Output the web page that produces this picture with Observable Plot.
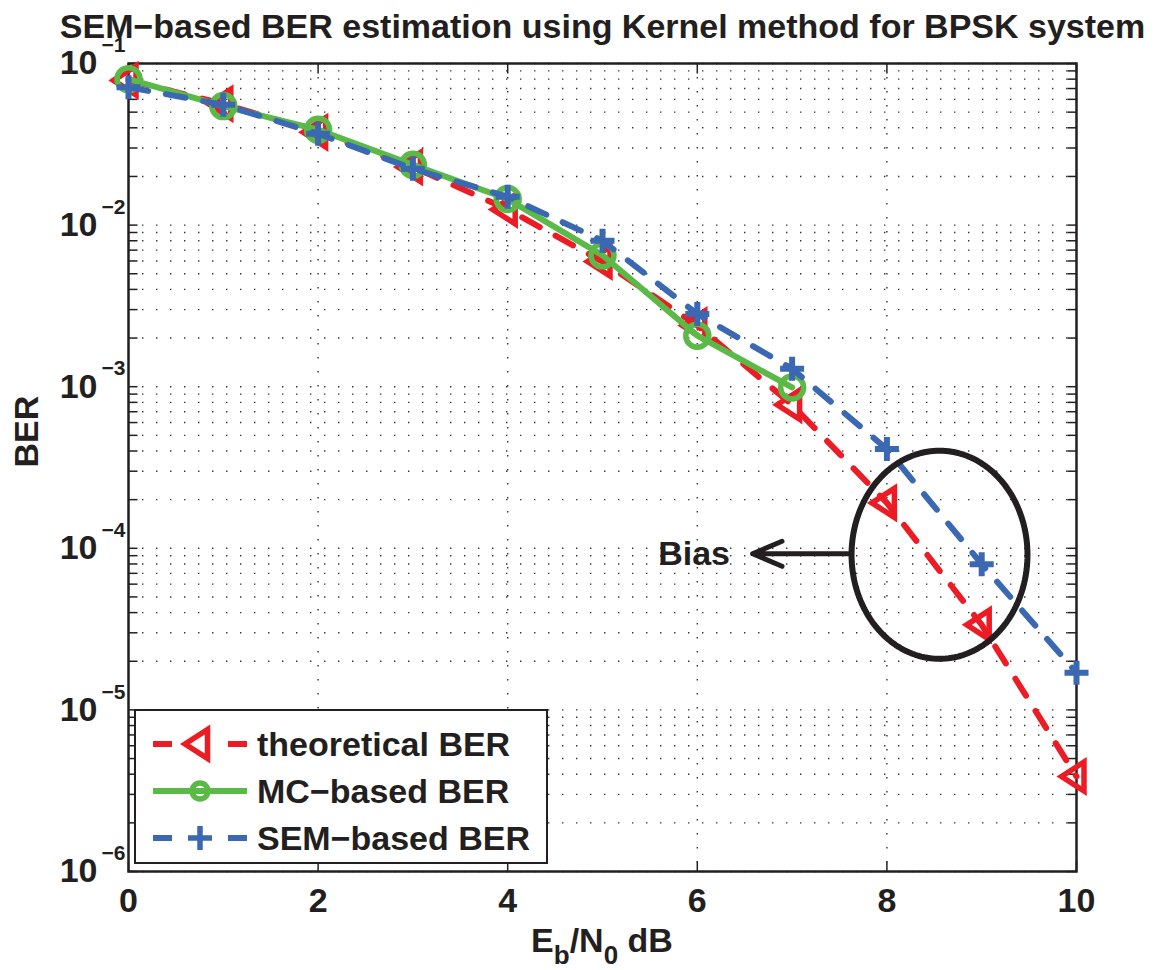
<!DOCTYPE html>
<html><head><meta charset="utf-8">
<script src="https://cdn.jsdelivr.net/npm/d3@7"></script>
<script src="https://cdn.jsdelivr.net/npm/@observablehq/plot@0.6"></script>
<style>
body{margin:0;background:#fff;}
#chart svg{display:block;}
</style></head>
<body><div id="chart"></div>
<script>
// ---- data ----
const ebn0 = [0,1,2,3,4,5,6,7,8,9,10];
const theoreticalBER = [0.0786,0.0563,0.0375,0.0229,0.0125,0.00595,0.00239,0.000773,0.000191,0.0000336,0.00000387];
const mcEbn0 = [0,1,2,3,4,5,6,7];
const mcBER = [0.080,0.0545,0.0389,0.0236,0.0145,0.0065,0.00207,0.00099];
const semBER = [0.0713,0.0555,0.0368,0.0223,0.0150,0.0080,0.00282,0.00129,0.000411,0.0000798,0.0000170];
const seriesNames = ["theoretical BER","MC\u2212based BER","SEM\u2212based BER"];
const seriesColors = ["#ed1c24","#5bb947","#3a68b3"];
const xTicks = [0,2,4,6,8,10];
const xGrid = [2,4,6,8];
const yExponents = [-1,-2,-3,-4,-5,-6];
const yMantissas = [1,2,3,4,5,6,7,8,9];
const titleText = "SEM\u2212based BER estimation using Kernel method for BPSK system";
const yLabel = "BER";
const xLabelParts = [["E",false],["b",true],["/N",false],["0",true],[" dB",false]];
const biasLabel = "Bias";
// annotation anchors (data space: x in dB, y as log10 BER)
const biasEllipse = {x: 8.555, rx: 0.928, logY: -4.04, logRy: 0.644};
const biasArrow = {x1: 7.596, x2: 6.583, logY: -4.034};
const biasText = {x: 5.966, logY: -4.034};

// ---- derived tables ----
const theory = ebn0.map((x,i)=>({x, y: theoreticalBER[i]}));
const mc = mcEbn0.map((x,i)=>({x, y: mcBER[i]}));
const sem = ebn0.map((x,i)=>({x, y: semBER[i]}));
const yMinor = [];
for (const e of yExponents.slice(1)) for (const m of yMantissas) yMinor.push(m * 10**e);
yMinor.push(10**yExponents[0]);
const ellipsePts = d3.range(0, 361, 2).map(a => {
  const t = a*Math.PI/180;
  return {x: biasEllipse.x + biasEllipse.rx*Math.cos(t), y: 10**(biasEllipse.logY + biasEllipse.logRy*Math.sin(t))};
});

// ---- symbols ----
const triLeft = {draw(c){c.moveTo(-15,0); c.lineTo(7.5,-14.5); c.lineTo(7.5,14.5); c.closePath();}};
const plusSym = {draw(c){c.moveTo(-12,0); c.lineTo(12,0); c.moveTo(0,-12); c.lineTo(0,12);}};
const tickL = {draw(c){c.moveTo(0,0); c.lineTo(9,0);}};
const tickR = {draw(c){c.moveTo(0,0); c.lineTo(-9,0);}};
const tickB = {draw(c){c.moveTo(0,0); c.lineTo(0,-10);}};
const tickT = {draw(c){c.moveTo(0,0); c.lineTo(0,10);}};

const INK = "#231f20";
const FONT = "'Liberation Sans', Arial, Helvetica, sans-serif";
const gridStyle = {stroke: "#333", strokeWidth: 1.4, strokeDasharray: "1.4,12.6"};
const LW = 6;

const plot = Plot.plot({
  width: 1157, height: 970,
  marginLeft: 128, marginRight: 81, marginTop: 63, marginBottom: 99,
  style: {fontFamily: FONT, background: "#fff", color: INK},
  x: {domain: [0,10], axis: null},
  y: {type: "log", domain: [1e-6, 1e-1], axis: null},
  marks: [
    Plot.ruleY(yMinor, {y: d=>d, ...gridStyle}),
    Plot.ruleX(xGrid, {x: d=>d, ...gridStyle}),
    Plot.frame({stroke: INK, strokeWidth: 2.5}),
    Plot.dot(yMinor, {x: 0, y: d=>d, symbol: tickL, stroke: INK, strokeWidth: 1.5, fill: "none"}),
    Plot.dot(yMinor, {x: 10, y: d=>d, symbol: tickR, stroke: INK, strokeWidth: 1.5, fill: "none"}),
    Plot.dot(xTicks, {x: d=>d, y: 1e-6, symbol: tickB, stroke: INK, strokeWidth: 1.5, fill: "none"}),
    Plot.dot(xTicks, {x: d=>d, y: 1e-1, symbol: tickT, stroke: INK, strokeWidth: 1.5, fill: "none"}),
    // tick labels
    Plot.text(yExponents, {x: 0, y: e=>10**e, text: ()=>"10", textAnchor: "end", dx: -31, lineAnchor: "middle", fontSize: 34, fontWeight: "bold", fill: INK}),
    Plot.text(yExponents, {x: 0, y: e=>10**e, text: e=>"\u2212"+Math.abs(e), textAnchor: "start", dx: -27, dy: -18, lineAnchor: "middle", fontSize: 21, fontWeight: "bold", fill: INK}),
    Plot.text(xTicks, {x: d=>d, frameAnchor: "bottom", text: d=>String(d), dy: 30, lineAnchor: "middle", fontSize: 34, fontWeight: "bold", fill: INK}),
    Plot.text([titleText], {frameAnchor: "top", text: d=>d, dy: -26, lineAnchor: "bottom", fontSize: 34, fontWeight: "bold", fill: INK}),
    Plot.text([yLabel], {frameAnchor: "left", text: d=>d, rotate: -90, dx: -91, lineAnchor: "bottom", fontSize: 34, fontWeight: "bold", fill: INK}),
    // series
    Plot.line(theory, {x: "x", y: "y", stroke: seriesColors[0], strokeWidth: LW, strokeDasharray: "20,18"}),
    Plot.dot(theory, {x: "x", y: "y", symbol: triLeft, stroke: seriesColors[0], strokeWidth: 5.5, fill: "none"}),
    Plot.line(mc, {x: "x", y: "y", stroke: seriesColors[1], strokeWidth: LW}),
    Plot.dot(mc, {x: "x", y: "y", r: 11.5, stroke: seriesColors[1], strokeWidth: 5.5, fill: "none"}),
    Plot.line(sem, {x: "x", y: "y", stroke: seriesColors[2], strokeWidth: LW, strokeDasharray: "20,18"}),
    Plot.dot(sem, {x: "x", y: "y", symbol: plusSym, stroke: seriesColors[2], strokeWidth: 6, fill: "none"}),
    // annotation
    Plot.line(ellipsePts, {x: "x", y: "y", stroke: INK, strokeWidth: 6}),
    Plot.arrow([biasArrow], {x1: "x1", x2: "x2", y1: d=>10**d.logY, y2: d=>10**d.logY, stroke: INK, strokeWidth: 5, headLength: 10, headAngle: 46}),
    Plot.text([biasText], {x: "x", y: d=>10**d.logY, text: ()=>biasLabel, lineAnchor: "middle", fontSize: 34, fontWeight: "bold", fill: INK})
  ]
});
document.getElementById("chart").appendChild(plot);

// ---- x label with subscripts ----
const svg = d3.select(plot);
const xl = svg.append("text").attr("x", 602).attr("y", 952).attr("text-anchor", "middle")
  .attr("font-family", FONT).attr("font-weight", "bold").attr("font-size", 34).attr("fill", INK);
let prevSub = false;
for (const [s, sub] of xLabelParts) {
  const t = xl.append("tspan").text(s).attr("font-size", sub ? 26 : 34);
  if (sub !== prevSub) t.attr("dy", sub ? 12 : -12);
  prevSub = sub;
}

// ---- legend ----
const lg = svg.append("g").attr("font-family", FONT).attr("text-anchor", "start");
lg.append("rect").attr("x", 135).attr("y", 710).attr("width", 412).attr("height", 153)
  .attr("fill", "#fff").attr("stroke", INK).attr("stroke-width", 2);
const rowsY = [744, 791, 838];
const legendMarkers = [
  {dash: "19,56", sym: triLeft},
  {dash: null, circle: 8},
  {dash: "19,56", sym: plusSym}
];
seriesNames.forEach((name, i) => {
  const y = rowsY[i], m = legendMarkers[i];
  const ln = lg.append("line").attr("x1", 153).attr("x2", 247).attr("y1", y).attr("y2", y)
    .attr("stroke", seriesColors[i]).attr("stroke-width", LW);
  if (m.dash) ln.attr("stroke-dasharray", m.dash);
  if (m.circle) {
    lg.append("circle").attr("cx", 200).attr("cy", y).attr("r", m.circle)
      .attr("fill", "none").attr("stroke", seriesColors[i]).attr("stroke-width", 5.5);
  } else {
    const p = d3.path(); m.sym.draw(p);
    lg.append("path").attr("d", p.toString()).attr("transform", `translate(200,${y})`)
      .attr("fill", "none").attr("stroke", seriesColors[i]).attr("stroke-width", 5.5);
  }
  lg.append("text").attr("x", 257).attr("y", y + 11.5).attr("text-anchor", "start").text(name)
    .attr("font-size", 34).attr("font-weight", "bold").attr("fill", INK);
});
</script>
</body></html>
